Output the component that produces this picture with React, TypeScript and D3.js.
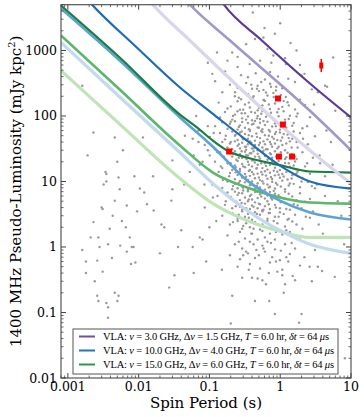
import React from "react"
import * as d3 from "d3"

// spin period (s), 1400 MHz pseudo-luminosity (mJy kpc^2)
const mspPulsars: [number, number][] = [
  [0.0016, 290], [0.0023, 56], [0.0046, 47], [0.0016, 0.9], [0.0018, 0.6], [0.0021, 1.4], [0.0023, 2.4],
  [0.0026, 0.62], [0.0027, 1.4], [0.0028, 1.0], [0.003, 4.0], [0.0031, 3.8], [0.0034, 14], [0.0035, 13],
  [0.0035, 10], [0.0037, 1.1], [0.0039, 1.9], [0.0042, 0.68], [0.0046, 5.1], [0.005, 20], [0.0052, 11.5],
  [0.0054, 7.6], [0.0055, 1.05], [0.006, 30], [0.0066, 2.0], [0.0068, 4.3], [0.0075, 1.4], [0.008, 1.0],
  [0.0085, 1.0], [0.009, 0.58], [0.0104, 7.8], [0.0115, 47], [0.012, 6.8], [0.0018, 0.4], [0.0031, 0.42],
  [0.0026, 0.18], [0.0027, 0.15], [0.0035, 0.14], [0.0037, 0.12], [0.0046, 0.2], [0.005, 0.15],
  [0.0052, 0.18], [0.0037, 0.083], [0.0019, 25], [0.0032, 9], [0.0043, 3], [0.0058, 2.5], [0.0068, 0.85],
  [0.0078, 0.55], [0.0024, 0.3], [0.0087, 12], [0.0095, 3.5],
]

const midPulsars: [number, number][] = [
  [0.0131, 4.5], [0.0163, 3.6], [0.03, 7.6], [0.029, 5.1], [0.03, 21], [0.021, 2.2], [0.023, 2.0],
  [0.036, 1.0], [0.04, 1.8], [0.058, 1.0], [0.073, 1.4], [0.086, 4.0], [0.112, 5.7], [0.058, 45],
  [0.053, 14], [0.045, 50], [0.065, 100], [0.08, 20], [0.09, 0.6], [0.06, 0.4], [0.027, 0.24],
  [0.032, 0.37], [0.11, 440], [0.02, 0.8], [0.016, 12], [0.044, 9], [0.07, 40], [0.095, 30], [0.1, 2],
  [0.07, 60], [0.085, 9], [0.1, 15], [0.13, 28], [0.095, 70], [0.115, 55], [0.06, 25], [0.14, 4],
  [0.125, 2.5], [0.08, 1.3],
]

const normalPulsars: [number, number][] = [
  // top
  [0.41, 3800], [1.0, 2600], [0.84, 1800], [0.128, 930], [0.095, 650], [0.21, 930], [0.44, 1500],
  [0.58, 1580], [0.8, 840], [0.25, 560], [1.4, 1300], [0.33, 1250], [0.66, 1050], [1.2, 620], [0.18, 700],
  [0.6, 2200], [0.25, 800], [0.37, 620], [0.52, 700], [0.75, 650], [1.17, 760], [1.9, 600],
  [0.166, 480], [0.28, 420], [0.35, 390], [0.45, 450], [0.61, 360], [0.72, 470], [0.93, 400], [1.3, 370],
  [2.2, 440], [0.12, 340], [0.195, 300], [0.25, 270], [0.33, 320], [0.4, 260], [0.48, 290], [0.58, 250],
  [0.72, 310], [0.88, 280], [1.07, 265], [1.62, 330], [2.8, 255], [0.152, 230], [0.229, 200], [0.28, 180],
  [0.35, 215], [0.41, 190], [0.5, 240], [0.59, 175], [0.66, 205], [0.8, 225], [0.97, 185], [1.2, 195],
  [1.5, 210], [1.9, 178], [3.4, 230],
  // 170 - 120
  [0.135, 160], [0.18, 130], [0.25, 168], [0.27, 125], [0.318, 150], [0.373, 135], [0.44, 165], [0.48, 122],
  [0.56, 145], [0.608, 170], [0.716, 128], [0.843, 155], [1.07, 138], [1.27, 162], [1.62, 126], [2.24, 148],
  // 120 - 85
  [0.141, 95], [0.166, 115], [0.21, 88], [0.229, 105], [0.25, 118], [0.29, 92], [0.318, 110], [0.35, 98],
  [0.4, 86], [0.44, 112], [0.48, 100], [0.518, 90], [0.56, 119], [0.66, 104], [0.77, 93], [0.91, 114],
  [1.17, 88], [1.37, 101], [1.76, 109], [2.63, 96],
  // 85 - 60
  [0.12, 70], [0.152, 80], [0.18, 64], [0.195, 76], [0.229, 83], [0.25, 62], [0.27, 72], [0.29, 81],
  [0.318, 66], [0.35, 78], [0.373, 61], [0.4, 74], [0.44, 84], [0.48, 67], [0.518, 79], [0.56, 63],
  [0.608, 73], [0.66, 82], [0.77, 69], [0.843, 77], [0.99, 62], [1.17, 80], [1.48, 71], [2.06, 65],
  // 60 - 42
  [0.101, 48], [0.141, 55], [0.166, 44], [0.21, 58], [0.229, 50], [0.25, 43], [0.27, 56], [0.29, 47],
  [0.318, 53], [0.35, 45], [0.373, 59], [0.4, 49], [0.44, 42], [0.46, 54], [0.518, 46], [0.56, 57],
  [0.608, 51], [0.66, 44], [0.716, 58], [0.77, 48], [0.843, 53], [0.91, 43], [0.99, 56], [1.07, 47],
  [1.27, 52], [1.48, 45], [1.9, 55], [3.1, 49],
  // 42 - 30
  [0.086, 36], [0.12, 31], [0.152, 40], [0.18, 33], [0.195, 38], [0.21, 31], [0.229, 41], [0.25, 35],
  [0.27, 32], [0.29, 39], [0.318, 34], [0.33, 30.5], [0.35, 37], [0.373, 41], [0.4, 32], [0.44, 36],
  [0.48, 30], [0.518, 39], [0.56, 33], [0.608, 37], [0.66, 31], [0.716, 40], [0.77, 34], [0.843, 38],
  [0.91, 32], [1.07, 36], [1.17, 30], [1.37, 41], [1.76, 33], [2.45, 37],
  // 30 - 21
  [0.101, 25], [0.141, 28], [0.166, 22], [0.195, 27], [0.21, 24], [0.229, 29], [0.24, 21.5], [0.27, 26],
  [0.29, 23], [0.318, 28.5], [0.335, 22], [0.35, 25], [0.373, 27], [0.4, 21], [0.42, 29], [0.44, 24],
  [0.48, 26.5], [0.518, 22.5], [0.56, 28], [0.608, 24.5], [0.66, 21.5], [0.716, 27], [0.77, 23],
  [0.843, 29], [0.99, 25], [1.17, 22], [1.27, 27.5], [1.62, 24], [2.06, 28], [2.9, 23],
  // 21 - 14.7
  [0.073, 18], [0.12, 20], [0.152, 16], [0.18, 19], [0.21, 15], [0.229, 17.5], [0.25, 20.5], [0.27, 15.5],
  [0.29, 18.5], [0.318, 16.5], [0.35, 20], [0.373, 15], [0.4, 17], [0.44, 19.5], [0.46, 15.8], [0.48, 18],
  [0.518, 20.5], [0.56, 16], [0.608, 19], [0.66, 15.2], [0.716, 17.8], [0.77, 20], [0.843, 16.2],
  [0.91, 18.6], [0.99, 15], [1.17, 19.2], [1.37, 16.8], [1.62, 20.2], [2.24, 17], [3.65, 19],
  // 14.7 - 10.4
  [0.086, 12], [0.135, 14], [0.166, 11], [0.195, 13.5], [0.229, 10.8], [0.25, 12.6], [0.27, 14.4],
  [0.29, 11.5], [0.318, 13], [0.35, 10.6], [0.373, 12.2], [0.4, 14], [0.44, 11.2], [0.48, 13.2],
  [0.518, 10.5], [0.56, 12.8], [0.608, 14.3], [0.66, 11], [0.716, 13.6], [0.77, 10.9], [0.843, 12.4],
  [0.91, 14.1], [0.99, 11.4], [1.07, 13], [1.27, 10.7], [1.48, 12.5], [1.76, 14.2], [2.06, 11.3],
  [2.63, 13.1], [4.3, 12],
  // 10.4 - 7.3
  [0.11, 9], [0.152, 8], [0.18, 10], [0.21, 7.6], [0.229, 9.2], [0.25, 7.9], [0.27, 10.2], [0.29, 8.4],
  [0.318, 9.7], [0.35, 7.4], [0.373, 8.8], [0.4, 10], [0.44, 7.7], [0.48, 9.4], [0.518, 8.1], [0.56, 10.1],
  [0.608, 7.5], [0.66, 9], [0.716, 8.3], [0.77, 9.9], [0.843, 7.8], [0.91, 8.9], [1.07, 10.3], [1.17, 7.6],
  [1.37, 9.3], [1.9, 8.2], [2.45, 9.8], [3.1, 7.9],
  // 7.3 - 5.1
  [0.13, 6], [0.18, 6.8], [0.21, 5.4], [0.229, 7], [0.25, 6.2], [0.27, 5.2], [0.29, 6.6], [0.318, 5.7],
  [0.35, 7.1], [0.373, 6], [0.4, 5.3], [0.44, 6.9], [0.48, 5.6], [0.518, 6.4], [0.56, 7.2], [0.608, 5.5],
  [0.66, 6.1], [0.716, 6.9], [0.77, 5.3], [0.843, 6.5], [0.99, 5.8], [1.17, 7], [1.48, 5.9], [1.9, 6.6],
  [2.63, 5.4],
  // 5.1 - 3.6
  [0.166, 4.4], [0.21, 3.9], [0.24, 4.9], [0.27, 4.1], [0.29, 3.7], [0.318, 4.6], [0.35, 5], [0.373, 3.8],
  [0.4, 4.3], [0.44, 4.8], [0.48, 3.9], [0.518, 4.5], [0.56, 3.65], [0.608, 4.2], [0.66, 5], [0.716, 3.8],
  [0.843, 4.4], [0.99, 3.9], [1.17, 4.7], [1.37, 3.7], [1.76, 4.3], [2.24, 4.9],
  // 3.6 - 1.26
  [0.152, 3], [0.21, 3.3], [0.25, 2.7], [0.29, 3.5], [0.318, 2.9], [0.35, 3.2], [0.4, 2.6], [0.44, 3.4],
  [0.48, 2.8], [0.518, 3.1], [0.56, 3.5], [0.66, 2.7], [0.716, 3.3], [0.843, 2.9], [0.99, 3.4], [1.27, 2.6],
  [1.62, 3.1], [2.63, 2.8], [0.195, 2.2], [0.25, 2.5], [0.29, 1.9], [0.33, 2.3], [0.373, 2], [0.44, 2.4],
  [0.518, 1.85], [0.56, 2.2], [0.66, 2.5], [0.77, 1.95], [0.91, 2.3], [1.17, 2.05], [1.48, 2.45],
  [2.06, 1.9], [0.18, 1.5], [0.27, 1.7], [0.318, 1.35], [0.4, 1.6], [0.48, 1.3], [0.56, 1.75], [0.608, 1.4],
  [0.716, 1.6], [0.843, 1.3], [1.07, 1.55], [1.37, 1.7], [1.9, 1.4],
  // below 1.26
  [0.229, 1.1], [0.29, 0.95], [0.373, 1.2], [0.46, 0.9], [0.56, 1.05], [0.66, 1.2], [0.843, 0.92],
  [1.17, 1.1], [1.62, 0.95], [0.195, 0.75], [0.27, 0.65], [0.35, 0.8], [0.44, 0.68], [0.608, 0.85],
  [0.77, 0.7], [0.99, 0.63], [1.37, 0.78], [0.25, 0.5], [0.373, 0.55], [0.518, 0.47], [0.716, 0.58],
  [1.07, 0.45], [1.9, 0.52], [0.21, 0.18], [0.29, 0.34], [0.4, 0.34], [0.44, 0.15], [0.48, 0.33],
  [0.56, 0.31], [0.63, 0.27], [0.91, 0.42], [1.07, 0.37], [1.17, 0.27], [1.5, 0.36], [1.62, 0.31],
  [0.84, 0.095], [0.2, 0.068], [1.85, 0.07], [2.0, 0.095], [0.15, 0.45], [0.7, 0.15], [1.3, 0.6],
  [0.3, 0.75], [2.2, 0.7],
  // long periods
  [2.0, 415], [4.3, 290], [4.6, 280], [5.6, 780], [1.7, 1000], [4.5, 60], [5.2, 40], [6.5, 5], [4.3, 6],
  [3.6, 25], [5.5, 18], [7.3, 3], [3.1, 0.9], [4.0, 1.6], [5.9, 0.35], [3.4, 0.5], [8.0, 1.1], [2.8, 0.3],
  [3.9, 0.43], [8.2, 0.02], [2.4, 70], [3.0, 150], [3.3, 9], [2.9, 3.5], [6.0, 120], [3.5, 2.2],
]

// second pass over the crowded middle of the population
const normalPulsarsCore: [number, number][] = [
  [0.2, 140], [0.26, 190], [0.3, 125], [0.36, 160], [0.42, 200], [0.5, 132], [0.58, 175], [0.69, 150],
  [0.81, 195], [0.95, 128], [1.12, 170], [1.32, 145], [0.23, 230], [0.47, 260], [0.63, 228], [0.87, 245],
  [1.02, 210], [0.39, 300], [0.54, 330], [0.74, 280],
  [0.215, 100], [0.26, 68], [0.285, 110], [0.33, 88], [0.36, 63], [0.39, 115], [0.42, 76], [0.47, 92],
  [0.5, 66], [0.54, 108], [0.58, 84], [0.63, 97], [0.69, 61], [0.74, 112], [0.81, 87], [0.87, 70],
  [0.95, 99], [1.02, 75], [1.12, 118], [1.22, 66], [1.32, 90], [1.55, 78], [1.7, 98], [0.2, 82],
  [0.2, 40], [0.235, 52], [0.26, 37], [0.285, 58], [0.3, 44], [0.33, 34], [0.36, 51], [0.39, 39],
  [0.42, 32], [0.47, 48], [0.5, 36], [0.54, 59], [0.58, 41], [0.63, 31], [0.69, 50], [0.74, 37],
  [0.81, 45], [0.87, 57], [0.95, 34], [1.02, 42], [1.12, 53], [1.22, 38], [1.32, 46], [1.45, 33],
  [1.55, 58], [1.7, 40], [2.1, 45], [0.17, 50],
  [0.2, 19], [0.215, 26], [0.235, 16.5], [0.26, 23], [0.285, 29], [0.3, 17], [0.33, 25.5], [0.36, 18],
  [0.39, 27], [0.42, 21], [0.47, 16], [0.5, 24], [0.54, 19], [0.58, 29.5], [0.63, 17.2], [0.69, 22.5],
  [0.74, 26], [0.81, 18.4], [0.87, 24], [0.95, 20.5], [1.02, 28], [1.12, 16.5], [1.22, 23.5], [1.32, 19],
  [1.45, 26], [1.55, 17.5], [1.7, 22], [2.4, 19], [0.16, 24], [0.145, 17],
  [0.19, 12], [0.215, 8.5], [0.235, 13.8], [0.26, 9.6], [0.285, 12.2], [0.3, 8], [0.33, 11.8], [0.36, 14.5],
  [0.39, 9.1], [0.42, 12.9], [0.47, 8.6], [0.5, 11.5], [0.54, 14], [0.58, 9.3], [0.63, 12.3], [0.69, 8.1],
  [0.74, 11.7], [0.81, 14.6], [0.87, 9.5], [0.95, 12.7], [1.02, 8.4], [1.12, 11.9], [1.22, 13.9],
  [1.32, 8.7], [1.45, 11.1], [1.55, 9.2], [1.7, 13.3], [2.0, 10], [2.8, 8.5], [0.155, 10.5],
  [0.2, 5.8], [0.235, 4.2], [0.26, 6.7], [0.285, 4.7], [0.3, 7.3], [0.33, 3.9], [0.36, 5.3], [0.39, 6.3],
  [0.42, 4.1], [0.47, 7], [0.5, 4.6], [0.54, 5.9], [0.58, 3.7], [0.63, 6.8], [0.69, 4.5], [0.74, 5.6],
  [0.81, 7.2], [0.87, 4], [0.95, 6.2], [1.02, 4.8], [1.12, 5.5], [1.22, 3.8], [1.32, 6.5], [1.55, 4.5],
  [1.7, 5.2], [2.0, 3.9], [0.17, 5],
  [0.215, 2.4], [0.26, 3.1], [0.3, 2.1], [0.36, 2.8], [0.42, 1.9], [0.47, 3.2], [0.54, 2.6], [0.63, 2],
  [0.69, 3.3], [0.81, 2.5], [0.87, 1.7], [0.95, 2.9], [1.12, 3.2], [1.22, 1.8], [1.32, 2.7], [1.7, 2.2],
  [2.3, 2.9], [0.39, 1.6],
  [0.26, 1.2], [0.33, 0.85], [0.42, 1.1], [0.5, 0.75], [0.58, 0.95], [0.74, 1.15], [0.87, 0.6],
  [1.02, 0.88], [1.22, 0.7], [1.45, 1.15], [0.36, 0.45], [0.69, 0.4], [1.12, 0.2], [2.6, 0.5],
]

const detections: [number, number][] = [[0.93, 185], [1.09, 74], [0.19, 28.7], [0.96, 24], [1.47, 24]]
const bright: [number, number, number, number][] = [[3.8, 590, 470, 740]] // P, L, low, high

// sensitivity curves (P, L)
const vla3DarkCurve: [number, number][] = [[0.15, 5500], [0.16, 5000], [0.55, 1420], [2.63, 313], [10, 95]]
const vla3MidCurve: [number, number][] = [[0.048, 5600], [0.053, 5000], [0.195, 1420], [2.63, 120], [10, 30]]
const vla3LightCurve: [number, number][] = [[0.0145, 5600], [0.0159, 5000], [0.053, 1420], [1.09, 67], [2.63, 29.7], [10, 9.3]]
const vla10DarkCurve: [number, number][] = [[0.002, 5600], [0.0022, 5000], [0.0091, 1150], [0.0383, 272], [0.112, 108], [0.339, 42], [0.99, 17.5], [2.63, 10], [10, 7.8]]
const vla10MidCurve: [number, number][] = [[0.0008, 4370], [0.0054, 703], [0.0383, 95], [0.112, 34], [0.339, 10.4], [0.99, 5.1], [2.63, 3.37], [10, 2.63]]
const vla10LightCurve: [number, number][] = [[0.0008, 1324], [0.0054, 195], [0.0383, 27.7], [0.112, 9.3], [0.339, 3.6], [0.99, 1.79], [2.63, 1.1], [10, 0.8]]
const vla15DarkCurve: [number, number][] = [[0.0008, 4860], [0.0054, 782], [0.0383, 105], [0.0665, 67], [0.112, 42], [0.189, 28.7], [0.339, 23.2], [0.99, 17.8], [2.63, 14.2], [10, 13.7]]
const vla15MidCurve: [number, number][] = [[0.0008, 1694], [0.0054, 254], [0.0383, 35.5], [0.112, 13.7], [0.339, 8.1], [0.99, 5.7], [2.63, 4.78], [10, 4.6]]
const vla15LightCurve: [number, number][] = [[0.0008, 495], [0.0054, 75], [0.0383, 11.1], [0.112, 4.6], [0.339, 2.54], [0.99, 1.74], [2.63, 1.4], [10, 1.4]]

const xTickLabels = ["0.001", "0.01", "0.1", "1", "10"]
const yTickLabels = ["0.01", "0.1", "1", "10", "100", "1000"]

const legendRows = [
  { color: "#6a51a3", nu: "3.0", dnu: "1.5" },
  { color: "#2474b7", nu: "10.0", dnu: "4.0" },
  { color: "#2a984a", nu: "15.0", dnu: "6.0" },
]

const curveStyles: { pts: [number, number][]; color: string; w: number }[] = [
  { pts: vla15LightCurve, color: "#bfe5b7", w: 3.2 },
  { pts: vla10LightCurve, color: "#c3daee", w: 3.2 },
  { pts: vla15MidCurve, color: "#5db76b", w: 2.6 },
  { pts: vla10MidCurve, color: "#5ba3d3", w: 2.6 },
  { pts: vla15DarkCurve, color: "#1c7d3e", w: 2.2 },
  { pts: vla10DarkCurve, color: "#1e6cb2", w: 2.2 },
  { pts: vla3LightCurve, color: "#d7d6eb", w: 3.2 },
  { pts: vla3MidCurve, color: "#9e99c9", w: 2.6 },
  { pts: vla3DarkCurve, color: "#5c3a98", w: 2.2 },
]

const left = 61, right = 351, top = 4.7, bottom = 378
const serif = "'DejaVu Serif', serif"

export default function App() {
  const x = d3.scaleLog().domain([0.0008, 10]).range([left, right])
  const y = d3.scaleLog().domain([0.01, 5000]).range([bottom, top])
  const line = d3.line<[number, number]>().x(d => x(d[0])).y(d => y(d[1])).curve(d3.curveMonotoneX)

  const xMajor = xTickLabels.map(Number)
  const yMajor = yTickLabels.map(Number)
  const xMinor: number[] = []
  for (const d of [0.0001, 0.001, 0.01, 0.1, 1]) for (let k = 2; k <= 9; k++) {
    const v = d * k
    if (v >= 0.0008 && v <= 10) xMinor.push(v)
  }
  const yMinor: number[] = []
  for (const d of [0.01, 0.1, 1, 10, 100, 1000]) for (let k = 2; k <= 9; k++) {
    const v = d * k
    if (v <= 5000) yMinor.push(v)
  }
  const tickColor = "#444"
  const allDots = [...mspPulsars, ...midPulsars, ...normalPulsars, ...normalPulsarsCore]

  return (
    <svg width={364} height={417} style={{ position: "absolute", left: 0, top: 0 }}>
      <defs>
        <clipPath id="plot">
          <rect x={left} y={top} width={right - left} height={bottom - top} />
        </clipPath>
      </defs>
      <rect x={0} y={0} width={364} height={417} fill="#fff" />
      <g clipPath="url(#plot)">
        {allDots.map((d, i) => (
          <circle key={i} cx={x(d[0])} cy={y(d[1])} r={1.2} fill="#999" />
        ))}
        {curveStyles.map((c, i) => (
          <path key={i} d={line(c.pts) || ""} fill="none" stroke={c.color} strokeWidth={c.w} />
        ))}
        {bright.map((d, i) => (
          <g key={i}>
            <line x1={x(d[0])} x2={x(d[0])} y1={y(d[2])} y2={y(d[3])} stroke="#f00" strokeWidth={1.5} />
            <rect x={x(d[0]) - 2} y={y(d[1]) - 3} width={4} height={6} fill="#f00" />
          </g>
        ))}
        {detections.map((d, i) => (
          <rect key={i} x={x(d[0]) - 3} y={y(d[1]) - 3} width={6} height={6} fill="#f00" />
        ))}
      </g>
      {/* frame */}
      <rect x={left} y={top} width={right - left} height={bottom - top} fill="none" stroke="#555" strokeWidth={1.2} />
      {/* ticks */}
      {xMajor.map(v => (
        <g key={"xM" + v}>
          <line x1={x(v)} x2={x(v)} y1={bottom} y2={bottom - 5} stroke={tickColor} />
          <line x1={x(v)} x2={x(v)} y1={top} y2={top + 5} stroke={tickColor} />
        </g>
      ))}
      {xMinor.map(v => (
        <g key={"xm" + v}>
          <line x1={x(v)} x2={x(v)} y1={bottom} y2={bottom - 2.5} stroke={tickColor} strokeWidth={0.8} />
          <line x1={x(v)} x2={x(v)} y1={top} y2={top + 2.5} stroke={tickColor} strokeWidth={0.8} />
        </g>
      ))}
      {yMajor.map(v => (
        <g key={"yM" + v}>
          <line x1={left} x2={left + 5} y1={y(v)} y2={y(v)} stroke={tickColor} />
          <line x1={right} x2={right - 5} y1={y(v)} y2={y(v)} stroke={tickColor} />
        </g>
      ))}
      {yMinor.map(v => (
        <g key={"ym" + v}>
          <line x1={left} x2={left + 2.5} y1={y(v)} y2={y(v)} stroke={tickColor} strokeWidth={0.8} />
          <line x1={right} x2={right - 2.5} y1={y(v)} y2={y(v)} stroke={tickColor} strokeWidth={0.8} />
        </g>
      ))}
      {/* tick labels */}
      {xTickLabels.map(t => (
        <text key={"xl" + t} x={x(+t)} y={bottom + 12.5} textAnchor="middle" fontFamily={serif} fontSize={12.5} fill="#000">{t}</text>
      ))}
      {yTickLabels.map(t => (
        <text key={"yl" + t} x={left - 4} y={y(+t) + 4.5} textAnchor="end" fontFamily={serif} fontSize={12.5} fill="#000">{t}</text>
      ))}
      <text x={(left + right) / 2} y={408} textAnchor="middle" fontFamily={serif} fontSize={15} fill="#000">Spin Period (s)</text>
      <text transform={`translate(20.5,${(top + bottom) / 2}) rotate(-90)`} textAnchor="middle" fontFamily={serif} fontSize={15} fill="#000">
        1400 MHz Pseudo-Luminosity (mJy kpc<tspan dy={-6} fontSize={10}>2</tspan><tspan dy={6}>)</tspan>
      </text>
      {/* legend */}
      <rect x={73} y={329} width={265} height={45} fill="#fff" stroke="#555" strokeWidth={1} />
      {legendRows.map((r, i) => {
        const ly = 336.5 + i * 14
        return (
          <g key={i}>
            <line x1={79} x2={95} y1={ly} y2={ly} stroke={r.color} strokeWidth={2} />
            <text x={103} y={ly + 3.5} fontFamily="'Liberation Serif', serif" fontSize={10.5} fill="#000"
              textLength={i === 0 ? 226 : 231} lengthAdjust="spacing">
              VLA: <tspan fontStyle="italic">ν</tspan> = {r.nu} GHz, Δ<tspan fontStyle="italic">ν</tspan> = {r.dnu} GHz, <tspan fontStyle="italic">T</tspan> = 6.0 hr, <tspan fontStyle="italic">δt</tspan> = 64 <tspan fontStyle="italic">μ</tspan>s
            </text>
          </g>
        )
      })}
    </svg>
  )
}
